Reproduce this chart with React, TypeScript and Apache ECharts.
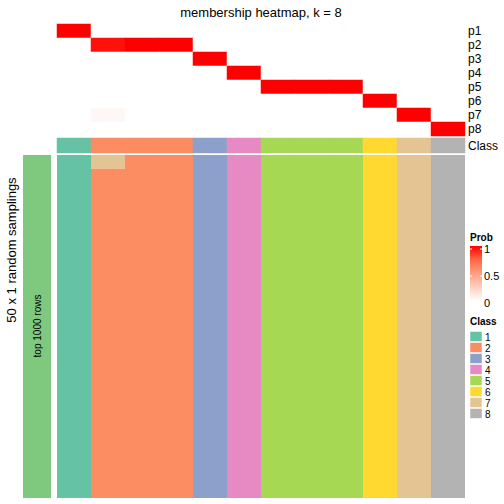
import React, { useEffect, useRef } from 'react';
import * as echarts from 'echarts';

const TITLE = 'membership heatmap, k = 8';
const SIDE_LABEL = '50 x 1 random samplings';
const BAR_LABEL = 'top 1000 rows';
const SAMPLES = ['s1', 's2', 's3', 's4', 's5', 's6', 's7', 's8', 's9', 's10', 's11', 's12'];
const PROB_ROWS = ['p1', 'p2', 'p3', 'p4', 'p5', 'p6', 'p7', 'p8'];
const P1 = [1, 0, 0, 0, 0, 0, 0, 0, 0, 0, 0, 0];
const P2 = [0, 0.96, 1, 1, 0, 0, 0, 0, 0, 0, 0, 0];
const P3 = [0, 0, 0, 0, 1, 0, 0, 0, 0, 0, 0, 0];
const P4 = [0, 0, 0, 0, 0, 1, 0, 0, 0, 0, 0, 0];
const P5 = [0, 0, 0, 0, 0, 0, 1, 1, 1, 0, 0, 0];
const P6 = [0, 0, 0, 0, 0, 0, 0, 0, 0, 1, 0, 0];
const P7 = [0, 0.04, 0, 0, 0, 0, 0, 0, 0, 0, 1, 0];
const P8 = [0, 0, 0, 0, 0, 0, 0, 0, 0, 0, 0, 1];
const PROBS = [P1, P2, P3, P4, P5, P6, P7, P8];
const CONSENSUS_CLASS = [1, 2, 2, 2, 3, 4, 5, 5, 5, 6, 7, 8];
// per sample: runs of [class, number of samplings], top to bottom
const SAMPLING_RUNS: [number, number][][] = [
  [[1, 50]],
  [[7, 2], [2, 48]],
  [[2, 50]],
  [[2, 50]],
  [[3, 50]],
  [[4, 50]],
  [[5, 50]],
  [[5, 50]],
  [[5, 50]],
  [[6, 50]],
  [[7, 50]],
  [[8, 50]],
];
const N_SAMPLINGS = 50;
const CLASS_LABELS = ['1', '2', '3', '4', '5', '6', '7', '8'];
const CLASS_COLORS = ['#66C2A5', '#FC8D62', '#8DA0CB', '#E78AC3', '#A6D854', '#FFD92F', '#E5C494', '#B3B3B3'];
const PROB_TICKS = ['1', '0.5', '0'];
const PROB_RAMP = ['#FFFFFF', '#FFCFBF', '#FF9E81', '#FF6846', '#FF0000'];

const FONT = "'Liberation Sans', Arial, Helvetica, sans-serif";

export default function App() {
  const ref = useRef<HTMLDivElement>(null);
  useEffect(() => {
    document.body.style.margin = '0';
    if (!ref.current) return;
    const chart = echarts.init(ref.current, null, { renderer: 'svg' });

    const probData: number[][] = [];
    PROBS.forEach((row, r) => row.forEach((v, c) => probData.push([c, r, v])));
    const classData = CONSENSUS_CLASS.map((v, c) => [c, 0, v]);
    const runData: number[][] = [];
    SAMPLING_RUNS.forEach((runs, c) => {
      let r = 0;
      runs.forEach(([cls, n]) => {
        runData.push([c, r, n, cls]);
        r += n;
      });
    });
    const rowNames = Array.from({ length: N_SAMPLINGS }, (_, i) => 'r' + (i + 1));

    const L = 57, W = 408;
    const grids = [
      { left: L, top: 24, width: W, height: 112 },
      { left: L, top: 138, width: W, height: 15 },
      { left: L, top: 155, width: W, height: 343 },
    ];
    const hiddenX = (i: number) => ({
      type: 'category', gridIndex: i, data: SAMPLES, show: false,
    });
    const labelY = (i: number, data: string[], show: boolean, inverse: boolean) => ({
      type: 'category', gridIndex: i, data, inverse, position: 'right', show,
      axisLine: { show: false }, axisTick: { show: false }, splitLine: { show: false },
      axisLabel: { interval: 0, margin: 3, fontSize: 12, color: '#000', fontFamily: FONT },
    });

    const stops = PROB_RAMP.map((c, i) => ({ offset: 1 - i / (PROB_RAMP.length - 1), color: c }));
    const legendX = 470;
    const center = { textAlign: 'center', textVerticalAlign: 'middle', align: 'center', verticalAlign: 'middle' };
    const leftMid = { textAlign: 'left', textVerticalAlign: 'middle', align: 'left', verticalAlign: 'middle' };
    const graphics: any[] = [
      { type: 'text', x: 261, y: 12, style: { text: TITLE, font: `13px ${FONT}`, fill: '#000', ...center } },
      { type: 'text', x: 11, y: 250, rotation: Math.PI / 2, style: { text: SIDE_LABEL, font: `13px ${FONT}`, fill: '#000', ...center } },
      { type: 'rect', shape: { x: 23, y: 155, width: 28, height: 343 }, style: { fill: '#7FC97F' } },
      { type: 'text', x: 37, y: 326, rotation: Math.PI / 2, style: { text: BAR_LABEL, font: `10px ${FONT}`, fill: '#000', ...center } },
      { type: 'text', x: legendX, y: 237, style: { text: 'Prob', font: `bold 10px ${FONT}`, fill: '#000', ...leftMid } },
      {
        type: 'rect', shape: { x: legendX, y: 246, width: 12, height: 55 },
        style: { fill: new echarts.graphic.LinearGradient(0, 0, 0, 1, stops.slice().reverse()) },
      },
      { type: 'text', x: legendX, y: 321, style: { text: 'Class', font: `bold 10px ${FONT}`, fill: '#000', ...leftMid } },
    ];
    const tickYs = [249, 276, 303];
    PROB_TICKS.forEach((t, i) => {
      graphics.push({ type: 'text', x: legendX + 14, y: tickYs[i], style: { text: t, font: `11px ${FONT}`, fill: '#000', ...leftMid } });
      if (i < 2) {
        graphics.push({ type: 'line', shape: { x1: legendX, y1: tickYs[i], x2: legendX + 2, y2: tickYs[i] }, style: { stroke: '#fff', lineWidth: 1 } });
        graphics.push({ type: 'line', shape: { x1: legendX + 10, y1: tickYs[i], x2: legendX + 12, y2: tickYs[i] }, style: { stroke: '#fff', lineWidth: 1 } });
      }
    });
    CLASS_LABELS.forEach((lab, i) => {
      const y = 331.5 + i * 11;
      graphics.push({ type: 'rect', shape: { x: legendX, y, width: 12, height: 10 }, style: { fill: CLASS_COLORS[i], stroke: 'rgba(255,255,255,0.5)', lineWidth: 1 } });
      graphics.push({ type: 'text', x: legendX + 15, y: y + 5.5, style: { text: lab, font: `10px ${FONT}`, fill: '#000', ...leftMid } });
    });

    chart.setOption({
      animation: false,
      backgroundColor: '#fff',
      grid: grids,
      xAxis: [hiddenX(0), hiddenX(1), hiddenX(2)],
      yAxis: [
        labelY(0, PROB_ROWS, true, true),
        labelY(1, ['Class'], true, false),
        labelY(2, rowNames, false, true),
      ],
      visualMap: [
        { type: 'continuous', min: 0, max: 1, seriesIndex: 0, show: false, inRange: { color: PROB_RAMP } },
        {
          type: 'piecewise', seriesIndex: 1, show: false,
          pieces: CLASS_COLORS.map((c, i) => ({ value: i + 1, color: c })),
        },
      ],
      series: [
        { type: 'heatmap', xAxisIndex: 0, yAxisIndex: 0, data: probData, emphasis: { disabled: true }, itemStyle: { borderWidth: 0 } },
        { type: 'heatmap', xAxisIndex: 1, yAxisIndex: 1, data: classData, emphasis: { disabled: true }, itemStyle: { borderWidth: 0 } },
        {
          type: 'custom', xAxisIndex: 2, yAxisIndex: 2, data: runData,
          encode: { x: 0, y: 1 },
          renderItem: (params: any, api: any) => {
            const c = api.value(0), r0 = api.value(1), n = api.value(2), cls = api.value(3);
            const p = api.coord([c, r0]);
            const s = api.size([1, 1]);
            return {
              type: 'rect',
              shape: { x: p[0] - s[0] / 2, y: p[1] - s[1] / 2, width: s[0], height: s[1] * n },
              style: { fill: CLASS_COLORS[cls - 1] },
            };
          },
        },
      ],
      graphic: graphics,
    });
    return () => chart.dispose();
  }, []);
  return <div ref={ref} style={{ width: 504, height: 504 }} />;
}
